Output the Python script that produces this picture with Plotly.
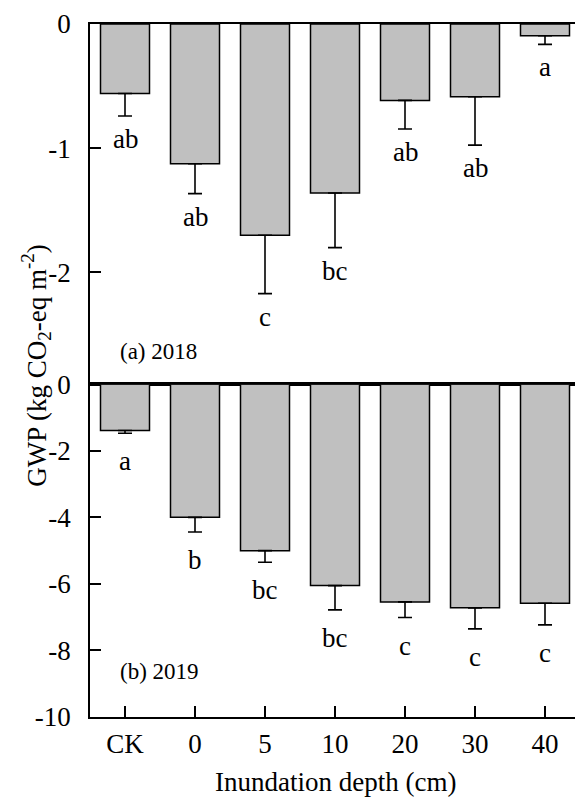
import plotly.graph_objects as go

categories = ["CK", "0", "5", "10", "20", "30", "40"]

gwp_2018 = [-0.56, -1.125, -1.70, -1.36, -0.615, -0.585, -0.094]
se_2018 = [0.18, 0.24, 0.47, 0.44, 0.23, 0.39, 0.07]
letters_2018 = ["ab", "ab", "c", "bc", "ab", "ab", "a"]

gwp_2019 = [-1.39, -4.0, -5.0, -6.05, -6.54, -6.72, -6.58]
se_2019 = [0.08, 0.44, 0.35, 0.73, 0.47, 0.63, 0.65]
letters_2019 = ["a", "b", "bc", "bc", "c", "c", "c"]

yticks_2018 = [0, -1, -2]
yticks_2019 = [0, -2, -4, -6, -8, -10]

FONT = "Liberation Serif"
FS = 27
BAR_COLOR = "#c0c0c0"
LW = 1.8

fig = go.Figure()

def add_bars(vals, errs, xa, ya):
    fig.add_trace(go.Bar(
        x=categories, y=vals, xaxis=xa, yaxis=ya,
        width=0.7,
        marker=dict(color=BAR_COLOR, line=dict(color="black", width=1.5)),
        error_y=dict(type="data", symmetric=False,
                     array=[0] * len(errs), arrayminus=errs,
                     color="black", thickness=1.6, width=7),
        showlegend=False, hoverinfo="skip",
    ))

add_bars(gwp_2018, se_2018, "x", "y")
add_bars(gwp_2019, se_2019, "x2", "y2")

annotations = []
for i, (v, e, t) in enumerate(zip(gwp_2018, se_2018, letters_2018)):
    annotations.append(dict(x=i, y=v - e, xref="x", yref="y", text=t,
                            showarrow=False, yanchor="middle", yshift=-23,
                            font=dict(family=FONT, size=FS, color="black")))
for i, (v, e, t) in enumerate(zip(gwp_2019, se_2019, letters_2019)):
    annotations.append(dict(x=i, y=v - e, xref="x2", yref="y2", text=t,
                            showarrow=False, yanchor="middle", yshift=-28,
                            font=dict(family=FONT, size=FS, color="black")))

annotations += [
    dict(x=0.057, y=0.092, xref="x domain", yref="y domain", text="(a) 2018",
         showarrow=False, xanchor="left", yanchor="middle",
         font=dict(family=FONT, size=23, color="black")),
    dict(x=0.057, y=0.138, xref="x2 domain", yref="y2 domain", text="(b) 2019",
         showarrow=False, xanchor="left", yanchor="middle",
         font=dict(family=FONT, size=23, color="black")),
    dict(x=0.5, y=0, xref="paper", yref="paper", yshift=-65,
         text="Inundation depth (cm)", showarrow=False,
         xanchor="center", yanchor="middle",
         font=dict(family=FONT, size=FS, color="black")),
    dict(x=0, y=0.507, xref="paper", yref="paper", xshift=-54,
         text="GWP (kg CO<sub>2</sub>-eq m<sup>-2</sup>)", textangle=-90,
         showarrow=False, xanchor="center", yanchor="middle",
         font=dict(family=FONT, size=FS, color="black")),
]

split = 0.4801
axis_common = dict(showline=True, linecolor="black", linewidth=LW, mirror=True,
                   showgrid=False, zeroline=False,
                   tickfont=dict(family=FONT, size=FS, color="black"))

fig.update_layout(
    width=575, height=789,
    margin=dict(l=82, r=1.5, t=11, b=80),
    paper_bgcolor="white", plot_bgcolor="white",
    bargap=0.3,
    xaxis=dict(domain=[0, 1], anchor="y", range=[-0.5, 6.5], type="category",
               showticklabels=False, ticks="", **axis_common),
    yaxis=dict(domain=[split, 1], anchor="x", range=[-2.9, 0],
               tickvals=yticks_2018, ticktext=[str(v) for v in yticks_2018],
               ticks="inside", ticklen=11, tickwidth=LW, tickcolor="black",
               ticklabelstandoff=12, **axis_common),
    xaxis2=dict(domain=[0, 1], anchor="y2", range=[-0.5, 6.5], type="category",
                ticks="inside", ticklen=11, tickwidth=LW, tickcolor="black",
                ticklabelstandoff=2, **axis_common),
    yaxis2=dict(domain=[0, split], anchor="x2", range=[-10, 0],
                tickvals=yticks_2019, ticktext=[str(v) for v in yticks_2019],
                ticks="inside", ticklen=11, tickwidth=LW, tickcolor="black",
                ticklabelstandoff=12, **axis_common),
    annotations=annotations,
)

fig.write_html("out.html")
